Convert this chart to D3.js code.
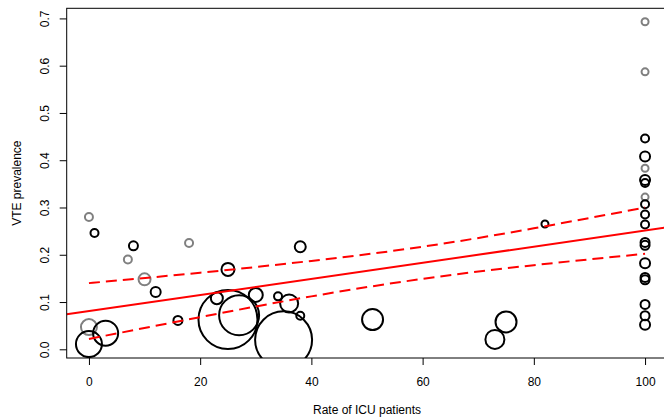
<!DOCTYPE html>
<html>
<head>
<meta charset="utf-8">
<script src="https://cdn.jsdelivr.net/npm/d3@7"></script>
<style>
  body { margin: 0; background: #fff; }
  text { font-family: "Liberation Sans", Arial, sans-serif; }
</style>
</head>
<body>
<svg id="chart"></svg>
<script>
// study level data
const studyRate = [0, 7, 18, 10, 0, 100, 100, 100, 100,
    1, 8, 12, 16, 3, 0, 38, 25, 23, 30, 34, 36, 38, 25, 27, 35, 51, 73, 75, 82,
    100, 100, 100, 100, 100, 100, 100, 100, 100, 100, 100, 100, 100, 100, 100]
const studyVTE = [0.280, 0.190, 0.225, 0.148, 0.047, 0.693, 0.587, 0.383, 0.322,
    0.246, 0.219, 0.121, 0.061, 0.034, 0.011, 0.217, 0.169, 0.108, 0.115, 0.112, 0.097, 0.071,
    0.063, 0.072, 0.020, 0.063, 0.021, 0.058, 0.265,
    0.446, 0.408, 0.358, 0.352, 0.307, 0.285, 0.264, 0.226, 0.220, 0.182, 0.152, 0.147,
    0.095, 0.071, 0.052]
// number of patients (bubble area)
const studyN = [64, 64, 64, 144, 256, 49, 49, 49, 49,
    64, 81, 100, 81, 625, 676, 121, 169, 144, 196, 64, 324, 64, 3481, 1600, 3249, 441, 361, 441, 49,
    64, 100, 100, 64, 64, 64, 64, 81, 81, 100, 81, 81, 81, 81, 100]
// 1 = black, 2 = grey
const studyGroup = [2, 2, 2, 2, 2, 2, 2, 2, 2,
    1, 1, 1, 1, 1, 1, 1, 1, 1, 1, 1, 1, 1, 1, 1, 1, 1, 1, 1, 1,
    1, 1, 1, 1, 1, 1, 1, 1, 1, 1, 1, 1, 1, 1, 1]

// meta-regression line and 95% band
const fitX = [-4, 104]
const fitY = [0.074, 0.258]
const bandX = [0, 20, 40, 60, 80, 100]
const bandUpper = [0.140, 0.162, 0.187, 0.217, 0.256, 0.300]
const bandLower = [0.022, 0.068, 0.112, 0.149, 0.178, 0.202]

const xTicks = [0, 20, 40, 60, 80, 100]
const yTicks = [0, 0.1, 0.2, 0.3, 0.4, 0.5, 0.6, 0.7]

const width = 664
const height = 420
const plotLeft = 66.7, plotRight = 667.3, plotTop = 8.3, plotBottom = 358

const svg = d3.select("#chart")
    .attr("width", width)
    .attr("height", height)

svg.append("rect")
    .attr("width", width)
    .attr("height", height)
    .attr("fill", "#fff")

const x = d3.scaleLinear().domain([-4, 104]).range([plotLeft, plotRight])
const y = d3.scaleLinear().domain([-0.0184, 0.7214]).range([plotBottom, plotTop])
const r = d3.scaleSqrt().domain([0, 3600]).range([0, 30])
const color = d3.scaleOrdinal().domain([1, 2]).range(["#000000", "#808080"])

svg.append("clipPath")
    .attr("id", "plotclip")
    .append("rect")
    .attr("x", plotLeft)
    .attr("y", plotTop)
    .attr("width", plotRight - plotLeft)
    .attr("height", plotBottom - plotTop)

const plot = svg.append("g").attr("clip-path", "url(#plotclip)")

// bubbles
plot.selectAll("circle")
    .data(studyRate.map((d, i) => i))
    .enter()
    .append("circle")
    .attr("cx", i => x(studyRate[i]))
    .attr("cy", i => y(studyVTE[i]))
    .attr("r", i => r(studyN[i]))
    .attr("fill", "none")
    .attr("stroke", i => color(studyGroup[i]))
    .attr("stroke-width", 2)

// regression line
plot.append("path")
    .datum(fitX.map((d, i) => [d, fitY[i]]))
    .attr("d", d3.line().x(d => x(d[0])).y(d => y(d[1])))
    .attr("fill", "none")
    .attr("stroke", "#ff0000")
    .attr("stroke-width", 2)

const band = d3.line().x(d => x(d[0])).y(d => y(d[1])).curve(d3.curveNatural)

plot.selectAll(".band")
    .data([bandUpper, bandLower])
    .enter()
    .append("path")
    .attr("class", "band")
    .attr("d", vals => band(bandX.map((d, i) => [d, vals[i]])))
    .attr("fill", "none")
    .attr("stroke", "#ff0000")
    .attr("stroke-width", 2)
    .attr("stroke-dasharray", "11,6")

// box
svg.append("rect")
    .attr("x", plotLeft)
    .attr("y", plotTop)
    .attr("width", plotRight - plotLeft)
    .attr("height", plotBottom - plotTop)
    .attr("fill", "none")
    .attr("stroke", "#000")
    .attr("stroke-width", 1)

// axes
const xAxis = svg.append("g")
    .attr("transform", `translate(0,${plotBottom})`)
    .call(d3.axisBottom(x).tickValues(xTicks).tickSize(7).tickPadding(12.5).tickFormat(d3.format("d")))
xAxis.select(".domain").remove()

const yAxis = svg.append("g")
    .attr("transform", `translate(${plotLeft},0)`)
    .call(d3.axisLeft(y).tickValues(yTicks).tickSize(7).tickFormat(d3.format(".1f")))
yAxis.select(".domain").remove()
// R style: labels parallel to the axis
yAxis.selectAll(".tick text")
    .attr("x", null)
    .attr("dy", null)
    .attr("y", 0)
    .attr("text-anchor", "middle")
    .attr("transform", `translate(${49 - plotLeft},0) rotate(-90)`)

svg.selectAll(".tick text")
    .attr("font-size", 12)
    .attr("font-family", "Liberation Sans, Arial, sans-serif")
    .attr("fill", "#000")

// axis titles
svg.append("text")
    .attr("x", (plotLeft + plotRight) / 2)
    .attr("y", 414)
    .attr("text-anchor", "middle")
    .attr("font-size", 12)
    .text("Rate of ICU patients")

svg.append("text")
    .attr("transform", `translate(20.5,${(plotTop + plotBottom) / 2}) rotate(-90)`)
    .attr("text-anchor", "middle")
    .attr("font-size", 12)
    .text("VTE prevalence")
</script>
</body>
</html>
